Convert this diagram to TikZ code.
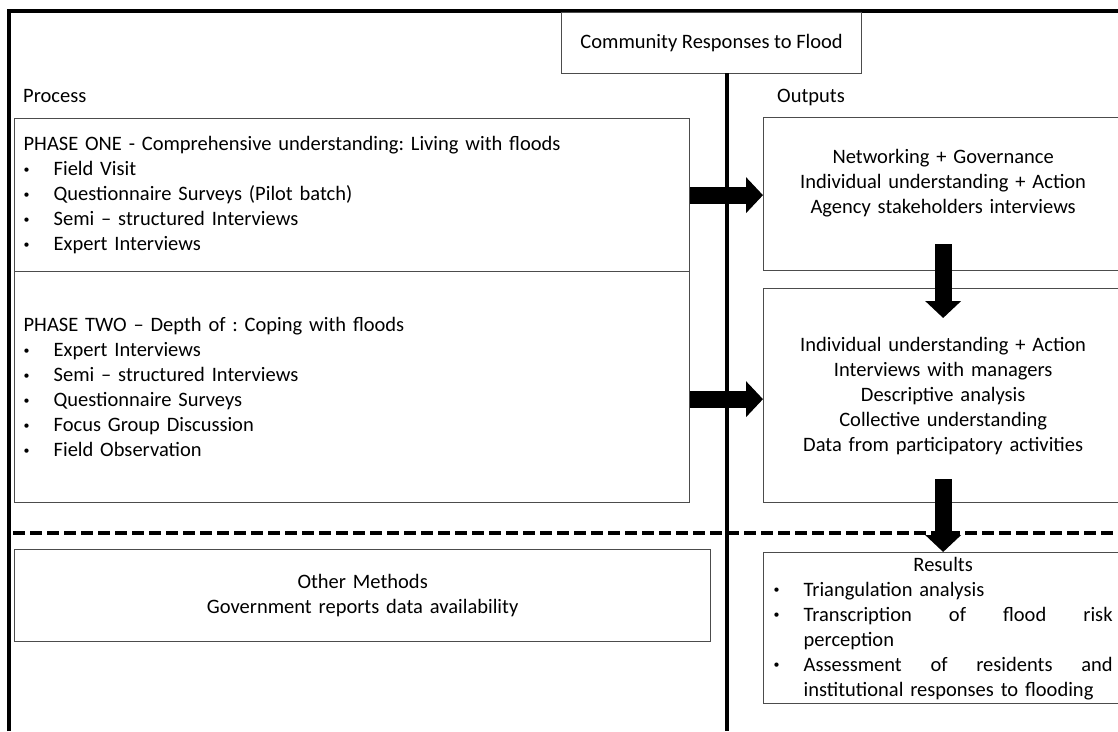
\documentclass[tikz,border=0pt]{standalone}
\usepackage{fontspec}
\setmainfont{Carlito}
\usepackage{xcolor}
\usepackage{tikz}
\usetikzlibrary{arrows.meta,calc}

\frenchspacing
\newcommand{\bl}{\makebox[30pt][l]{\raisebox{2.5pt}{\fontsize{12}{12}\selectfont\textbullet}}}

\begin{document}
\begin{tikzpicture}[x=1pt,y=-1pt,
  every node/.style={font=\fontsize{20.5}{25}\selectfont, inner sep=0pt},
  box/.style={draw=black!70, line width=1.3pt, inner xsep=9pt, anchor=north west},
  frameline/.style={line width=3.2pt},
  bigarrow/.style={line width=17pt, -{Triangle[length=17pt,width=35pt]}}]

\useasboundingbox (0,0) rectangle (1118,731);

\draw[frameline] (9,731) -- (9,11) -- (1118,11);

\node[box, minimum width=300pt, minimum height=61pt] (title) at (561,12) {Community Responses to Flood};
\coordinate (vtop) at (727,73);
\coordinate (vbot) at (727,731);
\draw[frameline] (vtop) -- (vbot);

\node[anchor=west] (process) at (23,96) {Process};
\node[anchor=west] (outputs) at (777,97) {Outputs};

\node[box, text width=657pt, align=left, minimum height=153pt] (p1) at (14,118) {PHASE ONE - Comprehensive understanding: Living with floods\\
\bl Field Visit\\
\bl Questionnaire Surveys (Pilot batch)\\
\bl Semi – structured Interviews\\
\bl Expert Interviews};

\node[box, text width=657pt, align=left, minimum height=231pt] (p2) at (14,271) {PHASE TWO – Depth of : Coping with floods\\
\bl Expert Interviews\\
\bl Semi – structured Interviews\\
\bl Questionnaire Surveys\\
\bl Focus Group Discussion\\
\bl Field Observation};

\node[box, inner xsep=10pt, text width=339pt, align=center, minimum height=153pt] (o1) at (763,117) {Networking + Governance\\
Individual understanding + Action\\
Agency stakeholders interviews\\ \mbox{}};

\node[box, inner xsep=10pt, text width=339pt, align=center, minimum height=214pt] (o2) at (763,288) {Individual understanding + Action\\
Interviews with managers\\
Descriptive analysis\\
Collective understanding\\
Data from participatory activities};

\draw[line width=3.6pt, dash pattern=on 12pt off 5pt] (13,533) -- (1118,533);

\node[box, text width=678pt, align=center, minimum height=92pt] (other) at (14,549) {Other Methods\\
Government reports data availability};

\node[box, inner xsep=10pt, text width=339pt, align=left, minimum height=151pt] (res) at (763,552) {\makebox[339pt]{Results}\\
\bl Triangulation analysis\\
\bl \hbox to 309pt{Transcription\hfil of\hfil flood\hfil risk}\\
\hspace*{30pt}perception\\
\bl \hbox to 309pt{Assessment\hfil of\hfil residents\hfil and}\\
\hspace*{30pt}institutional responses to flooding};

\draw[bigarrow] (p1.east) -- (p1.east -| o1.west);
\coordinate (a2) at ($(p2.east)+(0,12)$);
\draw[bigarrow] (a2) -- (a2 -| o2.west);
\draw[bigarrow] ($(o1.south)+(0,-27)$) -- ($(o2.north)+(0,30)$);
\draw[bigarrow] ($(o2.south)+(0,-24)$) -- (res.north);

\end{tikzpicture}
\end{document}
